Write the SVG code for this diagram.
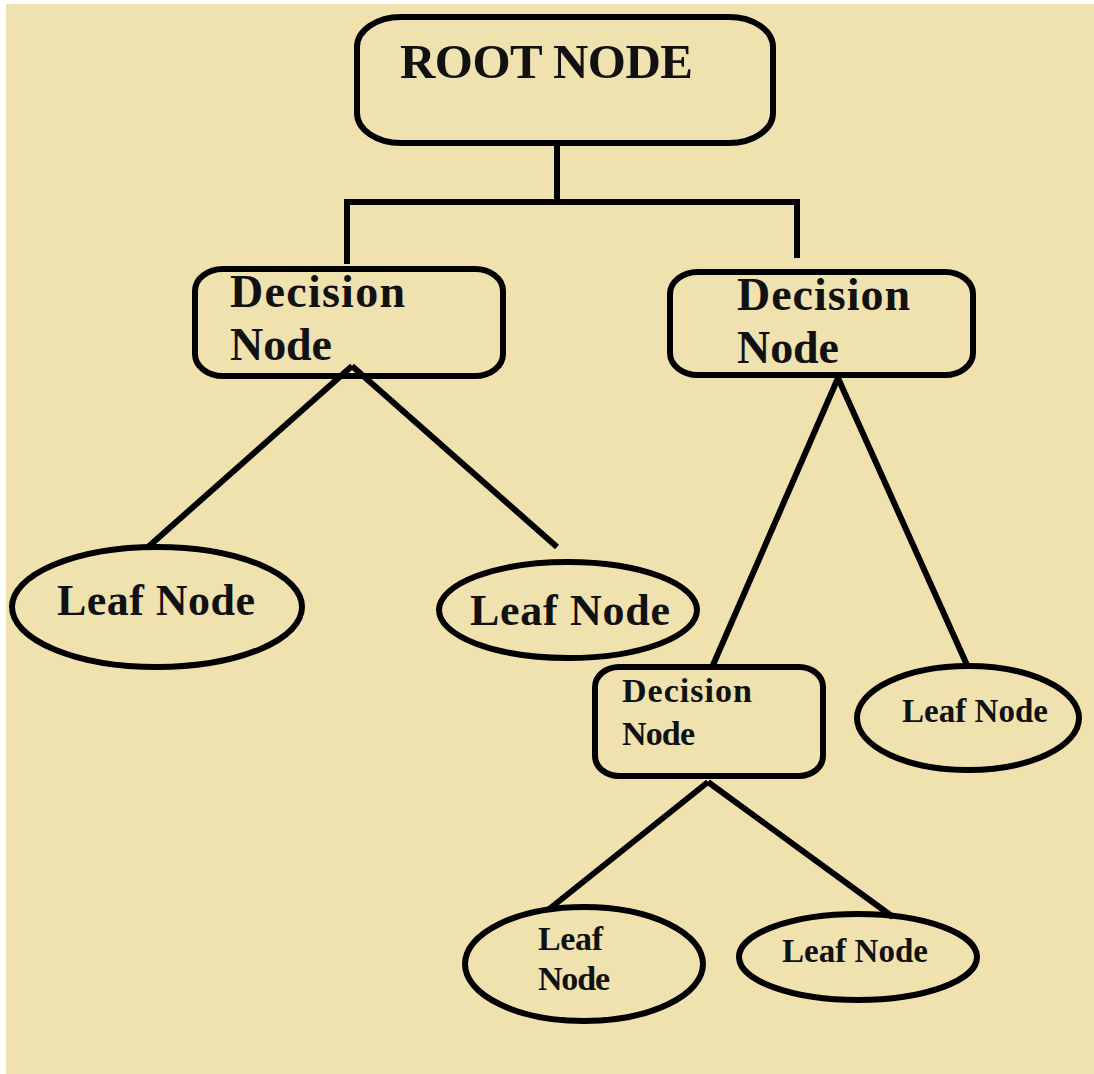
<svg xmlns="http://www.w3.org/2000/svg" width="1094" height="1074" viewBox="0 0 1094 1074">
<style>
.shape{fill:none;stroke:#000;stroke-width:6}
.conn{fill:none;stroke:#000;stroke-width:6;stroke-linecap:butt}
text{font-family:"Liberation Serif","Times New Roman",serif;font-weight:bold;fill:#111}
</style>
<rect x="0" y="0" width="1094" height="1074" fill="#fff"/>
<rect x="6" y="4" width="1088" height="1070" fill="#EFE2AF"/>
<g id="connectors">
<polyline class="conn" points="557,145 557,205"/>
<polyline class="conn" points="347,264 347,202 797,202 797,258"/>
<line class="conn" x1="352" y1="366" x2="148" y2="547"/>
<line class="conn" x1="352" y1="366" x2="557" y2="547"/>
<line class="conn" x1="838" y1="378" x2="713" y2="665"/>
<line class="conn" x1="838" y1="378" x2="967" y2="665"/>
<line class="conn" x1="708" y1="782" x2="548" y2="910"/>
<line class="conn" x1="708" y1="782" x2="893" y2="917"/>
</g>
<g id="root">
<rect class="shape" x="357" y="17" width="416" height="126" rx="44" ry="30"/>
<text x="400" y="78" font-size="49" textLength="293">ROOT NODE</text>
</g>
<g id="decision1">
<rect class="shape" x="195" y="269" width="308" height="107" rx="28" ry="22" fill="#EFE2AF"/>
<text x="230" y="307" font-size="46" textLength="175">Decision</text>
<text x="230" y="360" font-size="46" textLength="102">Node</text>
</g>
<g id="decision2">
<rect class="shape" x="670" y="272" width="303" height="103" rx="28" ry="22" fill="#EFE2AF"/>
<text x="737" y="310" font-size="46" textLength="173">Decision</text>
<text x="737" y="363" font-size="46" textLength="102">Node</text>
</g>
<g id="leaf1">
<ellipse class="shape" cx="157" cy="607" rx="145" ry="60" fill="#EFE2AF"/>
<text x="57" y="615" font-size="44" textLength="198">Leaf Node</text>
</g>
<g id="leaf2">
<ellipse class="shape" cx="568" cy="610" rx="129" ry="48" fill="#EFE2AF"/>
<text x="470" y="625" font-size="44" textLength="200">Leaf Node</text>
</g>
<g id="decision3">
<rect class="shape" x="595" y="667" width="228" height="109" rx="24" ry="20" fill="#EFE2AF"/>
<text x="622" y="702" font-size="34" textLength="130">Decision</text>
<text x="622" y="745" font-size="34" textLength="73">Node</text>
</g>
<g id="leaf3">
<ellipse class="shape" cx="968" cy="718" rx="111" ry="52" fill="#EFE2AF"/>
<text x="902" y="722" font-size="33" textLength="146">Leaf Node</text>
</g>
<g id="leaf4">
<ellipse class="shape" cx="584" cy="964" rx="119" ry="57" fill="#EFE2AF"/>
<text x="538" y="950" font-size="34" textLength="65">Leaf</text>
<text x="538" y="990" font-size="34" textLength="72">Node</text>
</g>
<g id="leaf5">
<ellipse class="shape" cx="858" cy="957" rx="119" ry="43" fill="#EFE2AF"/>
<text x="782" y="962" font-size="33" textLength="146">Leaf Node</text>
</g>
</svg>
